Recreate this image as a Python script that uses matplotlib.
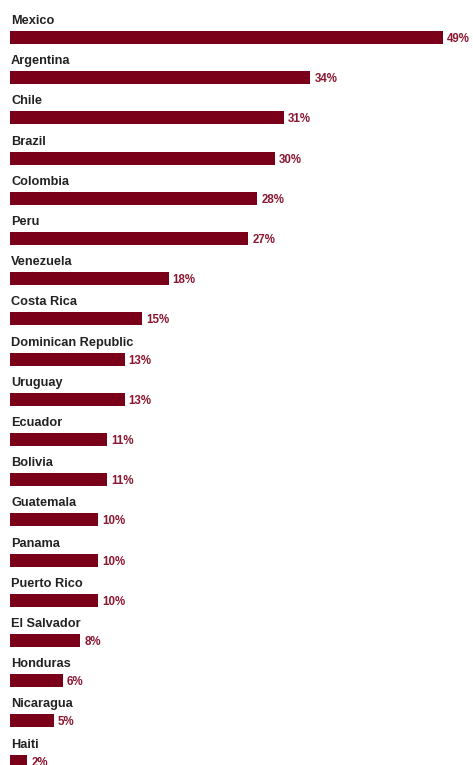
import matplotlib
matplotlib.use("Agg")
import matplotlib.pyplot as plt

countries = ["Mexico", "Argentina", "Chile", "Brazil", "Colombia", "Peru",
             "Venezuela", "Costa Rica", "Dominican Republic", "Uruguay",
             "Ecuador", "Bolivia", "Guatemala", "Panama", "Puerto Rico",
             "El Salvador", "Honduras", "Nicaragua", "Haiti"]
shares = [49, 34, 31, 30, 28, 27, 18, 15, 13, 13, 11, 11, 10, 10, 10, 8, 6, 5, 2]

W, H = 473, 765
bar_color = "#7a0019"
label_color = "#222222"
font = ["Liberation Sans", "DejaVu Sans"]

fig = plt.figure(figsize=(W / 100, H / 100), dpi=100)
ax = fig.add_axes([0, 0, 1, 1])

# pixel geometry of the rows
px_per_unit = 433.5 / 49
x0_px = 9.5
row_px = 40.2
first_center_px = 37.5

ax.set_xlim(-x0_px / px_per_unit, (W - x0_px) / px_per_unit)
ax.set_ylim((H - first_center_px) / row_px, -first_center_px / row_px)
ax.axis("off")

ys = list(range(len(countries)))
ax.barh(ys, shares, height=13 / row_px, color=bar_color, left=0)

for y, name, v in zip(ys, countries, shares):
    ax.text(1.5 / px_per_unit, y - 16.5 / row_px, name, fontsize=9.2,
            fontweight="bold", color=label_color, family=font,
            va="center", ha="left")
    ax.text(v + 4 / px_per_unit, y + 1.5 / row_px, f"{v}%", fontsize=8.3,
            fontweight="bold", color="#8a1630", family=font,
            va="center", ha="left")

fig.savefig("out.png", dpi=100)
